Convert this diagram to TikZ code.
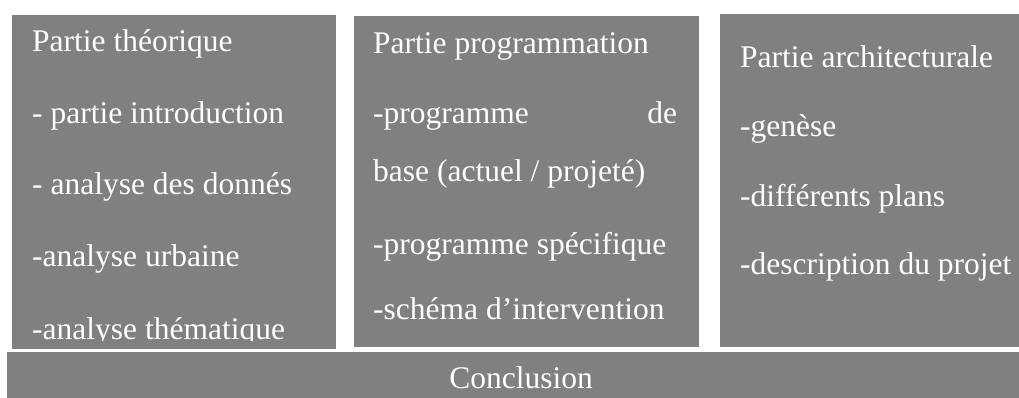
\documentclass[tikz,border=0pt]{standalone}
\usepackage{fontspec}
\setmainfont{Liberation Serif}
\definecolor{boxgray}{RGB}{128,128,128}
\begin{document}
\begin{tikzpicture}[x=1pt,y=1pt,
  box/.style={fill=boxgray,draw=none,inner sep=0pt,anchor=south west},
  txt/.style={text=white,inner sep=0pt,anchor=base west,font=\fontsize{31.5}{36}\selectfont}]
\useasboundingbox (0,0) rectangle (1019,398);
% boxes
\node[box,minimum width=324pt,minimum height=334pt] (b1) at (12,49) {};
\node[box,minimum width=345pt,minimum height=331pt] (b2) at (354,51) {};
\node[box,minimum width=299pt,minimum height=333pt] (b3) at (720,51) {};
\node[box,minimum width=1012pt,minimum height=46pt] (b4) at (7,0) {};
% box 1
\node[txt] (t11) at (32,346) {Partie théorique};
\node[txt] (t12) at (32,274) {- partie introduction};
\node[txt] (t13) at (32,203) {- analyse des donnés};
\node[txt] (t14) at (32,131) {-analyse urbaine};
\begin{scope}
\clip (12,57) rectangle (336,100);
\node[txt] (t15) at (32,58) {-analyse thématique};
\end{scope}
% box 2
\node[txt] (t21) at (373,344) {Partie programmation};
\node[txt] (t22) at (373,274) {\makebox[304pt][s]{-programme\hfill de}};
\node[txt] (t23) at (373,216) {base (actuel / projeté)};
\node[txt] (t24) at (373,143) {-programme spécifique};
\node[txt] (t25) at (373,78) {-schéma d’intervention};
% box 3
\node[txt] (t31) at (740,330) {Partie architecturale};
\node[txt] (t32) at (740,261) {-genèse};
\node[txt] (t33) at (740,191) {-différents plans};
\node[txt] (t34) at (740,123) {-description du projet};
% conclusion
\node[txt,anchor=base] (t41) at (521,9) {Conclusion};
\end{tikzpicture}
\end{document}
